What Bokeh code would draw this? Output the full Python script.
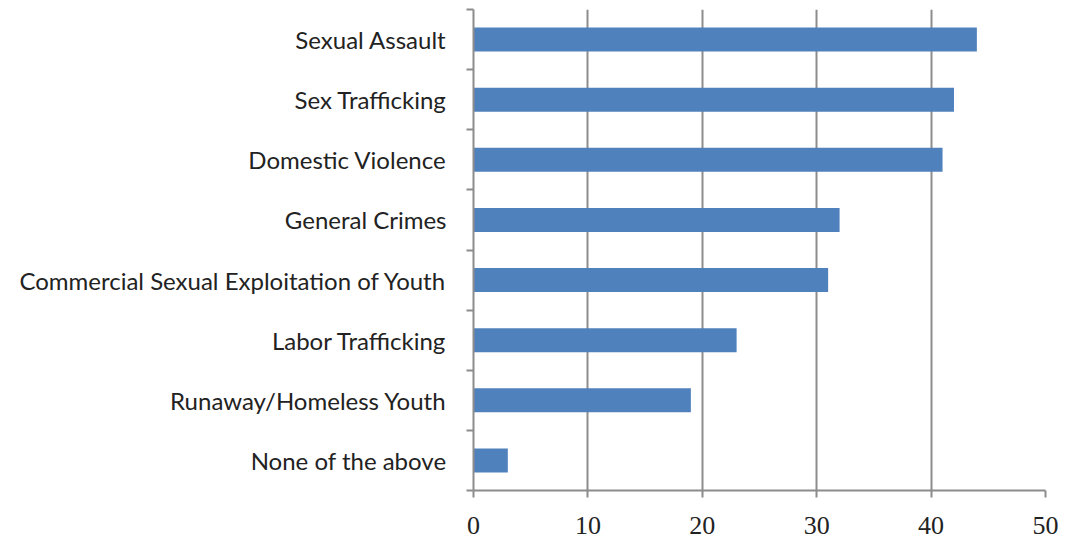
from bokeh.plotting import figure
from bokeh.models import FixedTicker, Range1d
from bokeh.embed import file_html
from bokeh.resources import INLINE

categories = ["None of the above", "Runaway/Homeless Youth", "Labor Trafficking",
              "Commercial Sexual Exploitation of Youth", "General Crimes",
              "Domestic Violence", "Sex Trafficking", "Sexual Assault"]
values = [3, 19, 23, 31, 32, 41, 42, 44]
x_ticks = [0, 10, 20, 30, 40, 50]

n = len(categories)
centers = [i + 0.5 for i in range(n)]

p = figure(width=1066, height=539, output_backend="svg", toolbar_location=None,
           x_range=Range1d(0, 50), y_range=Range1d(0, n),
           min_border_left=473, min_border_right=21, min_border_top=9, min_border_bottom=49)
p.outline_line_color = None
p.background_fill_color = "white"
p.border_fill_color = "white"

p.hbar(y=centers, right=values, left=0, height=0.4, color="#4F81BD", line_color=None)

gray = "#8c8c8c"
# x axis
p.xaxis.ticker = FixedTicker(ticks=x_ticks)
p.xaxis.axis_line_color = gray
p.xaxis.axis_line_width = 2
p.xaxis.major_tick_line_color = gray
p.xaxis.major_tick_line_width = 2
p.xaxis.major_tick_out = 7
p.xaxis.major_tick_in = 0
p.xaxis.minor_tick_line_color = None
p.xaxis.major_label_text_font = "Liberation Serif"
p.xaxis.major_label_text_font_size = "26px"
p.xaxis.major_label_text_color = "#222222"
p.xaxis.major_label_standoff = 19

# y axis
p.yaxis.ticker = FixedTicker(ticks=centers, minor_ticks=list(range(n + 1)))
p.yaxis.major_label_overrides = {c: lab for c, lab in zip(centers, categories)}
p.yaxis.axis_line_color = gray
p.yaxis.axis_line_width = 2
p.yaxis.major_tick_line_color = None
p.yaxis.major_tick_out = 0
p.yaxis.major_tick_in = 0
p.yaxis.minor_tick_line_color = gray
p.yaxis.minor_tick_line_width = 2
p.yaxis.minor_tick_out = 7
p.yaxis.minor_tick_in = 0
p.yaxis.major_label_text_font = "Lato"
p.yaxis.major_label_text_font_size = "24px"
p.yaxis.major_label_text_color = "#222222"
p.yaxis.major_label_standoff = 20

p.xgrid.ticker = FixedTicker(ticks=x_ticks[1:])
p.xgrid.grid_line_color = gray
p.xgrid.grid_line_width = 2
p.ygrid.grid_line_color = None

open("out.html", "w").write(file_html(p, INLINE))
